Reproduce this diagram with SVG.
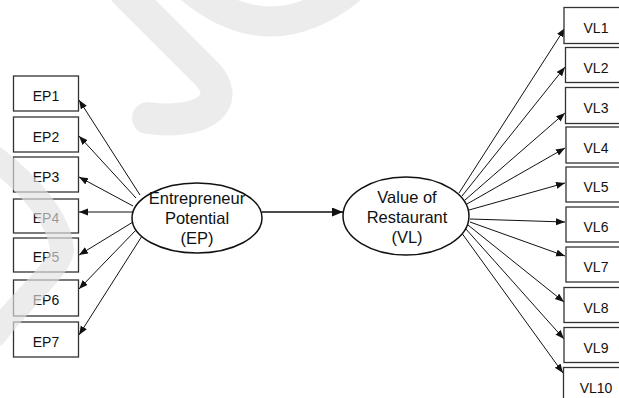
<svg xmlns="http://www.w3.org/2000/svg" width="619" height="398" viewBox="0 0 619 398">
<style>
.box{fill:#fff;stroke:#333;stroke-width:1.3}
.ell{fill:#fff;stroke:#111;stroke-width:1.5}
.bt{font-family:"Liberation Sans",Arial,sans-serif;font-size:14px;fill:#111;text-anchor:middle}
.et{font-family:"Liberation Sans",Arial,sans-serif;font-size:16.5px;fill:#111;text-anchor:middle}
.ln{stroke:#111;stroke-width:1;fill:none;marker-end:url(#ah)}
.wm{fill:none;stroke:#e2e2e2;stroke-opacity:0.65;stroke-linecap:round}
</style>
<defs>
<marker id="ah" markerUnits="userSpaceOnUse" markerWidth="10" markerHeight="8" refX="9" refY="3.5" orient="auto">
<path d="M0,0 L9,3.5 L0,7 z" fill="#111"/>
</marker>
<marker id="ah2" markerUnits="userSpaceOnUse" markerWidth="12" markerHeight="10" refX="11" refY="4.5" orient="auto">
<path d="M0,0 L11,4.5 L0,9 z" fill="#111"/>
</marker>
</defs>
<rect width="619" height="398" fill="#fff"/>
<g id="connectors">
<line class="ln" x1="140" y1="195" x2="79" y2="100"/>
<line class="ln" x1="136" y1="198" x2="79" y2="136"/>
<line class="ln" x1="133" y1="206" x2="79" y2="177"/>
<line class="ln" x1="133" y1="212" x2="79" y2="212"/>
<line class="ln" x1="133" y1="222" x2="79" y2="255"/>
<line class="ln" x1="137" y1="229" x2="79" y2="289"/>
<line class="ln" x1="142" y1="236" x2="79" y2="335"/>
<line x1="262" y1="212" x2="343" y2="212" stroke="#111" stroke-width="1.6" marker-end="url(#ah2)"/>
<line class="ln" x1="459" y1="193" x2="565" y2="28"/>
<line class="ln" x1="462" y1="196" x2="565" y2="67"/>
<line class="ln" x1="465" y1="200" x2="565" y2="113"/>
<line class="ln" x1="467" y1="204" x2="565" y2="148"/>
<line class="ln" x1="469" y1="210" x2="565" y2="183"/>
<line class="ln" x1="470" y1="219" x2="565" y2="222"/>
<line class="ln" x1="470" y1="222" x2="565" y2="256"/>
<line class="ln" x1="468" y1="225" x2="564" y2="302"/>
<line class="ln" x1="465" y1="228" x2="564" y2="339"/>
<line class="ln" x1="461" y1="232" x2="563" y2="373"/>
</g>
<g id="EP"><ellipse class="ell" cx="197" cy="218" rx="65" ry="35"/>
<text class="et" x="197" y="204">Entrepreneur</text><text class="et" x="197" y="224">Potential</text><text class="et" x="197" y="244">(EP)</text></g>
<g id="VL"><ellipse class="ell" cx="406" cy="216" rx="63" ry="39"/>
<text class="et" x="407" y="203">Value of</text><text class="et" x="407" y="223">Restaurant</text><text class="et" x="407" y="243">(VL)</text></g>
<g id="EP1"><rect class="box" x="13.5" y="76" width="65" height="35"/><text class="bt" x="46" y="101">EP1</text></g>
<g id="EP2"><rect class="box" x="13.5" y="117" width="65" height="35"/><text class="bt" x="46" y="142">EP2</text></g>
<g id="EP3"><rect class="box" x="13.5" y="157" width="65" height="35"/><text class="bt" x="46" y="182">EP3</text></g>
<g id="EP4"><rect class="box" x="13.5" y="199" width="65" height="34"/><text class="bt" x="46" y="223">EP4</text></g>
<g id="EP5"><rect class="box" x="13.5" y="238" width="65" height="34"/><text class="bt" x="46" y="262">EP5</text></g>
<g id="EP6"><rect class="box" x="13.5" y="280" width="65" height="36"/><text class="bt" x="46" y="305">EP6</text></g>
<g id="EP7"><rect class="box" x="13.5" y="322" width="65" height="35"/><text class="bt" x="46" y="347">EP7</text></g>
<g id="VL1"><rect class="box" x="564" y="7.5" width="62" height="36"/><text class="bt" x="596" y="33">VL1</text></g>
<g id="VL2"><rect class="box" x="565.5" y="47.5" width="62" height="35"/><text class="bt" x="596" y="73">VL2</text></g>
<g id="VL3"><rect class="box" x="565.5" y="87.5" width="62" height="36"/><text class="bt" x="596" y="113">VL3</text></g>
<g id="VL4"><rect class="box" x="566" y="127" width="62" height="36"/><text class="bt" x="596" y="153">VL4</text></g>
<g id="VL5"><rect class="box" x="566" y="167" width="62" height="35"/><text class="bt" x="596" y="192">VL5</text></g>
<g id="VL6"><rect class="box" x="566" y="207" width="62" height="35"/><text class="bt" x="596" y="232">VL6</text></g>
<g id="VL7"><rect class="box" x="566" y="247" width="62" height="35"/><text class="bt" x="596" y="272">VL7</text></g>
<g id="VL8"><rect class="box" x="564" y="287.5" width="62" height="35"/><text class="bt" x="596" y="313">VL8</text></g>
<g id="VL9"><rect class="box" x="564" y="327.5" width="62" height="35"/><text class="bt" x="596" y="353">VL9</text></g>
<g id="VL10"><rect class="box" x="563.5" y="367.5" width="62" height="36"/><text class="bt" x="596" y="393">VL10</text></g>
<g id="watermark">
<path class="wm" stroke-width="30" d="M190,-12 Q270,55 352,-12"/>
<path class="wm" stroke-width="32" d="M125,-8 L203,70 C236,100 205,126 148,118"/>
<path class="wm" stroke-width="24" d="M-5,158 C30,185 60,220 62,250 C60,270 20,300 -5,335"/>
</g>
</svg>
